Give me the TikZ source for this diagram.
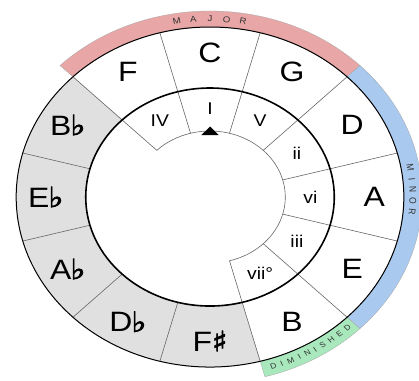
\documentclass[tikz,border=0pt]{standalone}
\usepackage{fontspec}
\setmainfont{Liberation Sans}
\newfontfamily\musicfont[FakeBold=2.5]{DejaVu Sans}
\usepackage{xcolor}
\usepackage{tikz}

\definecolor{majorband}{HTML}{E8A6A6}
\definecolor{minorband}{HTML}{A9C9EE}
\definecolor{dimband}{HTML}{A9E8BD}
\definecolor{flatkeys}{HTML}{E0E0E0}
\newcommand{\flatsym}{\kern-1pt{\musicfont\bfseries ♭}}
\newcommand{\sharpsym}{{\musicfont\bfseries ♯}}

\begin{document}
\begin{tikzpicture}[
    xscale=1.14, transform shape,
    keylabel/.style={font=\fontsize{28}{30}\selectfont},
    degree/.style={font=\fontsize{17}{19}\selectfont},
    bandtext/.style={font=\fontsize{8.5}{9}\selectfont, text=black!80, inner sep=0pt},
    spoke/.style={draw=black!60, line width=0.6pt},
    band/.style={draw=black!35, line width=0.3pt}
]
\useasboundingbox (-184.2pt,-183pt) rectangle (183.3pt,197pt);

% coloured bands outside the ring
\filldraw[band, fill=majorband] (45:170pt) arc[start angle=45, end angle=135, radius=170pt]
    -- (135:186pt) arc[start angle=135, end angle=45, radius=186pt] -- cycle;
\filldraw[band, fill=minorband] (-45:170pt) arc[start angle=-45, end angle=45, radius=170pt]
    -- (45:186pt) arc[start angle=45, end angle=-45, radius=186pt] -- cycle;
\filldraw[band, fill=dimband] (-75:170pt) arc[start angle=-75, end angle=-45, radius=170pt]
    -- (-45:186pt) arc[start angle=-45, end angle=-75, radius=186pt] -- cycle;

% grey sectors (flat side)
\fill[flatkeys] (135:109pt) arc[start angle=135, end angle=285, radius=109pt]
    -- (285:170pt) arc[start angle=285, end angle=135, radius=170pt] -- cycle;

% spokes and inner arc
\foreach \a in {165,195,225,255}
    \draw[spoke] (\a:109pt) -- (\a:170pt);
\foreach \a in {-75,-45,...,135}
    \draw[spoke] (\a:66pt) -- (\a:170pt);
\draw[spoke] (-75:66pt) arc[start angle=-75, end angle=135, radius=66pt];

\draw[line width=1.6pt] (0,0) circle[radius=109pt];
\draw[line width=1pt] (0,0) circle[radius=170pt];

% tonic marker
\fill (90:70.5pt) -- (-7.5pt,62pt) -- (7.5pt,62pt) -- cycle;

% keys
\foreach \k/\n [count=\i] in {C/C, G/G, D/D, A/A, E/E, B/B, {F\sharpsym}/Fs,
        {D\flatsym}/Db, {A\flatsym}/Ab, {E\flatsym}/Eb, {B\flatsym}/Bb, F/F}
    \node[keylabel] (key-\n) at ({90-30*(\i-1)}:144pt) {\k};

% scale degrees
\foreach \d/\a/\n in {I/90/one, V/60/five, ii/30/two, vi/0/six, iii/-30/three,
        vii°/-60/seven, IV/120/four}
    \node[degree] (deg-\n) at (\a:88pt) {\d};

% band captions
\foreach \c [count=\i] in {M,A,J,O,R}
    \node[bandtext, rotate={99.4-4.7*(\i-1)-90}] (major-\i) at ({99.4-4.7*(\i-1)}:178pt) {\c};
\foreach \c [count=\i] in {M,I,N,O,R}
    \node[bandtext, rotate={9.4-3.55*(\i-1)-90}] (minor-\i) at ({9.4-3.55*(\i-1)}:178pt) {\c};
\foreach \c/\a [count=\i] in {D/-71.8, I/-69.3, M/-66.6, I/-63.9, N/-61.3, I/-58.8,
        S/-56.3, H/-53.4, E/-50.4, D/-47.4}
    \node[bandtext, font=\fontsize{7.5}{9}\selectfont, rotate={\a+90}] (dim-\i) at (\a:178pt) {\c};
\end{tikzpicture}
\end{document}
